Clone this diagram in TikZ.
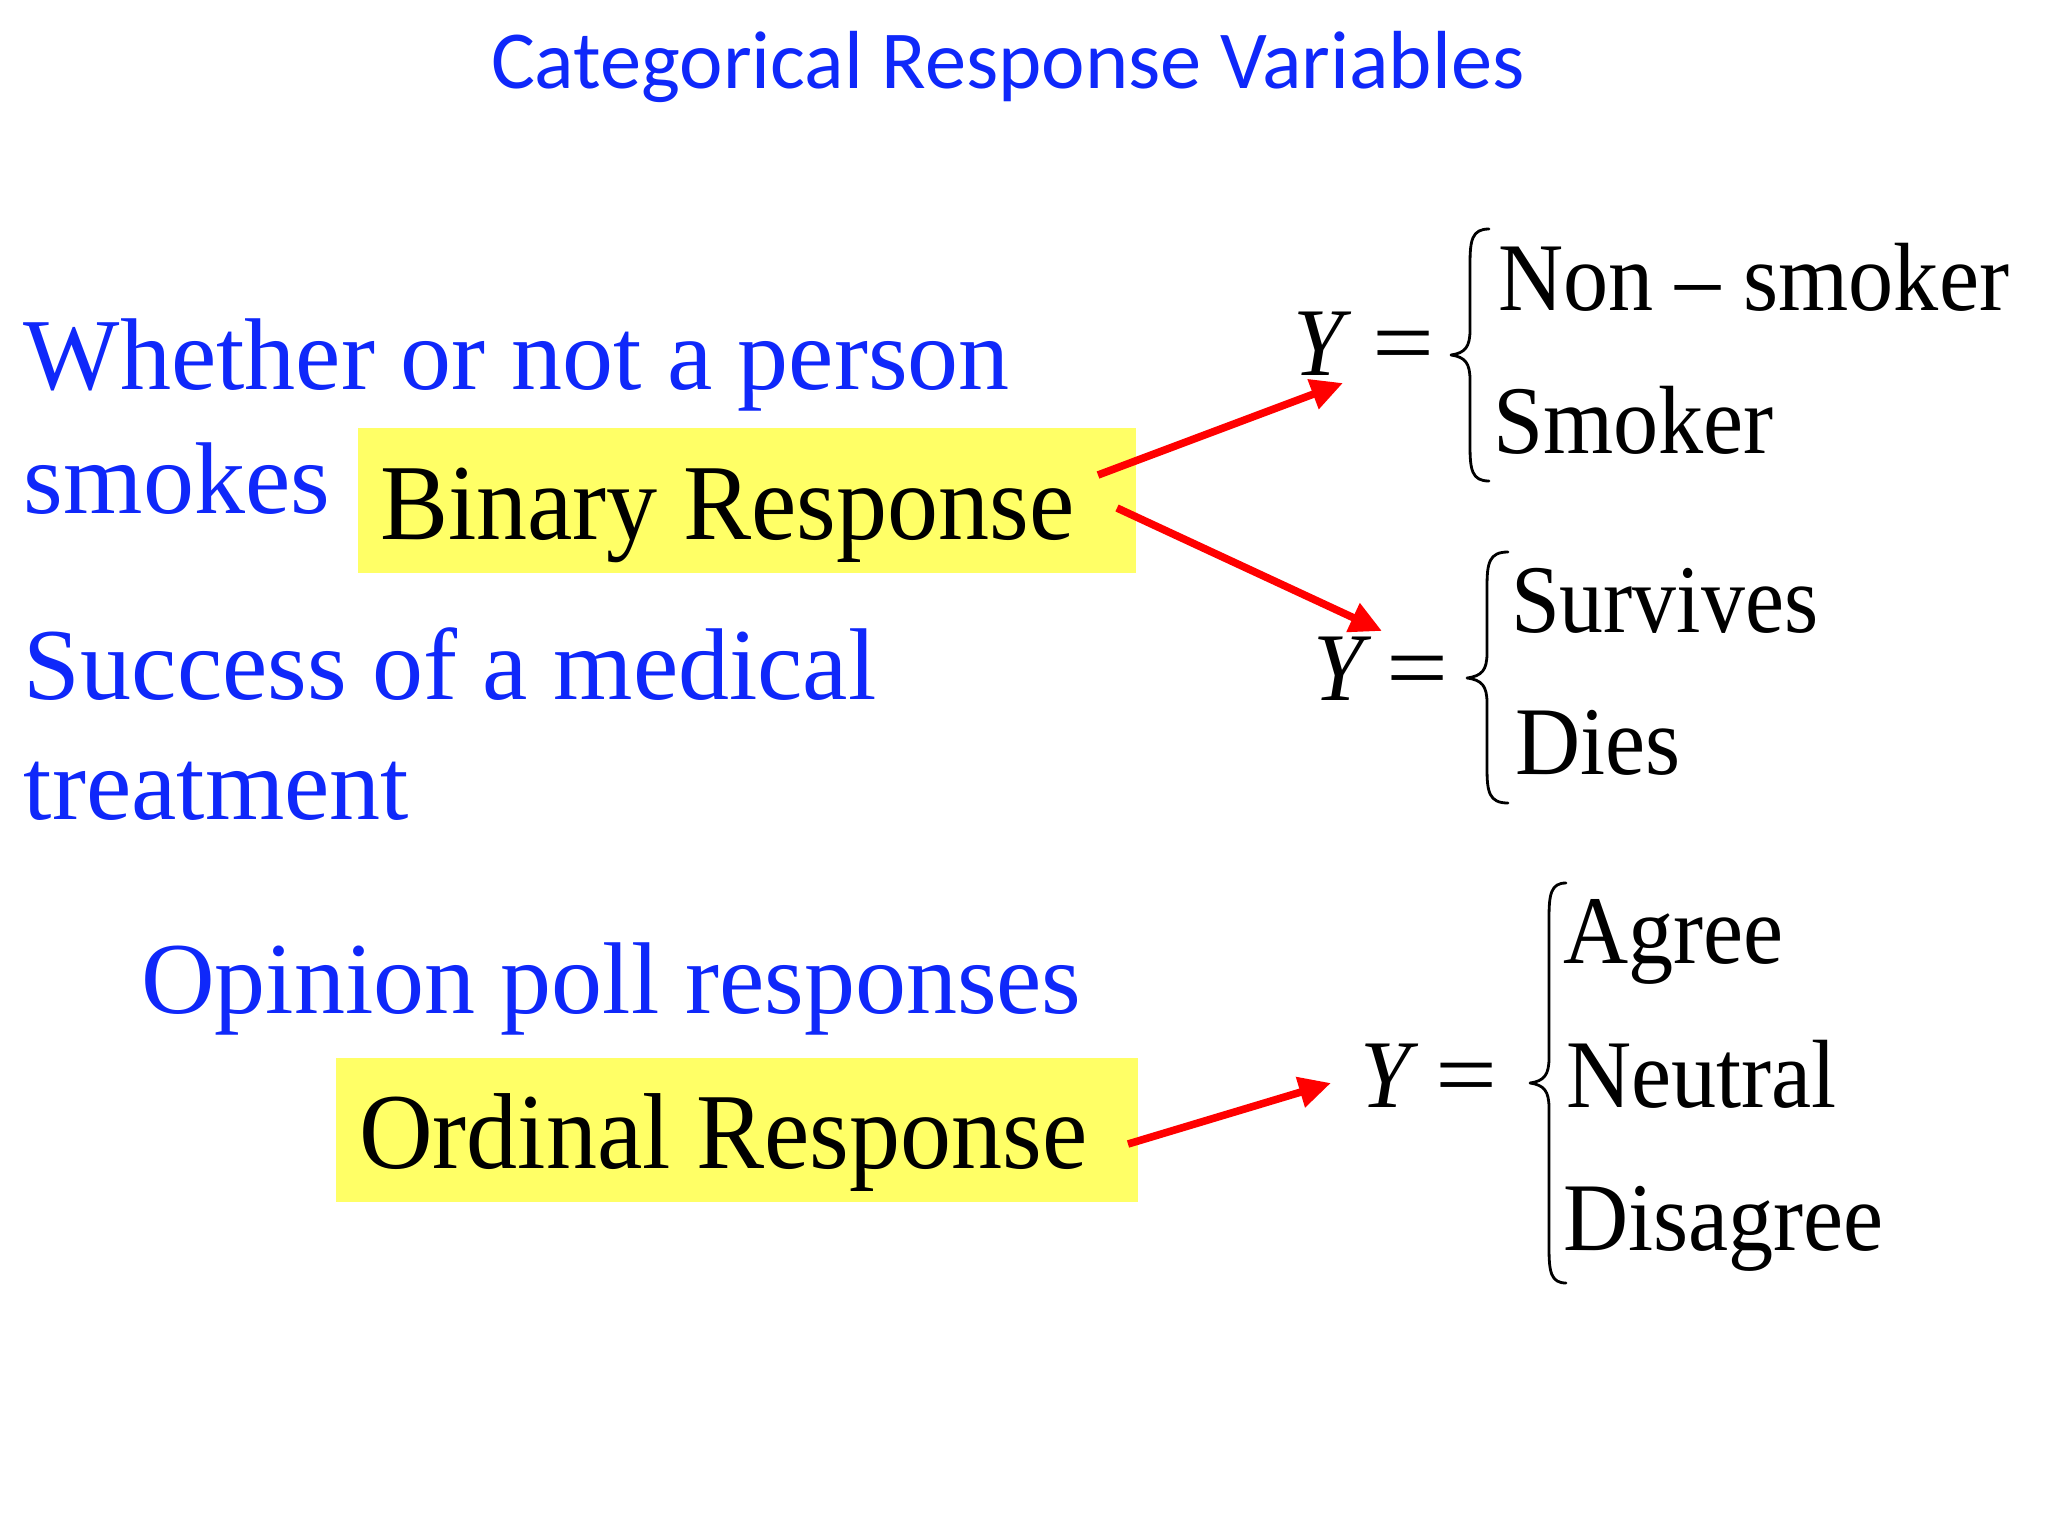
\documentclass[tikz,border=0pt]{standalone}
\usepackage{fontspec}
\setmainfont{Liberation Serif}
\newfontfamily\titlefont{Carlito}
\newfontfamily\bigfont[FakeStretch=0.945]{Liberation Serif}
\newfontfamily\eqfont[FakeStretch=0.93]{Liberation Serif}
\usetikzlibrary{arrows.meta}
\definecolor{ttblue}{RGB}{15,40,250}
\definecolor{boxyellow}{RGB}{255,255,102}
\definecolor{arrred}{RGB}{255,0,0}
\tikzset{
  txt/.style={inner sep=0pt, outer sep=0pt, anchor=base west},
  bluetxt/.style={txt, text=ttblue, font=\fontsize{51}{60}\selectfont},
  bigtxt/.style={txt, text=black, font=\bigfont\fontsize{54}{64}\selectfont},
  eqtxt/.style={txt, text=black, font=\eqfont\fontsize{48.5}{58}\selectfont},
  ytxt/.style={txt, text=black, font=\eqfont\itshape\fontsize{48.5}{58}\selectfont},
  ybox/.style={fill=boxyellow, draw=none, inner sep=0pt},
  redarrow/.style={draw=arrred, line width=3.8pt, -{Triangle[length=16pt,width=15pt]}},
  bracepath/.style={draw=black, line width=1.4pt, line cap=round, line join=round}
}
\newcommand{\wideeq}{\scalebox{1.22}[1]{=}}
\begin{document}
\begin{tikzpicture}[x=0.5pt,y=-0.5pt]
\useasboundingbox[fill=white] (0,0) rectangle (2048,1536);

% title
\node[txt, text=ttblue, font=\titlefont\fontsize{41.2}{48}\selectfont] (title) at (491,89) {Categorical Response Variables};

% left blue texts
\node[bluetxt] (l1) at (24,389) {Whether or not a person};
\node[bluetxt] (l2) at (24,513) {smokes};
\node[bluetxt] (l3) at (24,699) {Success of a medical};
\node[bluetxt] (l4) at (24,819) {treatment};
\node[bluetxt] (l5) at (141,1013) {Opinion poll responses};

% yellow boxes
\node[ybox, minimum width=389pt, minimum height=72.5pt] (binbox) at (747,500.5) {};
\node[bigtxt] (bintxt) at (380,539) {Binary Response};
\node[ybox, minimum width=401pt, minimum height=72pt] (ordbox) at (737,1130) {};
\node[bigtxt] (ordtxt) at (359,1168) {Ordinal Response};

% equation 1
\node[ytxt] (Y1) at (1293,375) {Y};
\node[eqtxt] (eq1) at (1372,375) {\wideeq};
\draw[bracepath] (1489,229) .. controls (1472,229) and (1470,240) .. (1470,264) -- (1470,330) .. controls (1470,347) and (1465,353) .. (1451,355) .. controls (1465,357) and (1470,363) .. (1470,380) -- (1470,446) .. controls (1470,470) and (1472,481) .. (1489,481);
\node[eqtxt] (c11) at (1498,310) {Non – smoker};
\node[eqtxt] (c12) at (1493,453) {Smoker};

% equation 2
\node[ytxt] (Y2) at (1313,700) {Y};
\node[eqtxt] (eq2) at (1386,700) {\wideeq};
\draw[bracepath] (1508,552) .. controls (1489,552) and (1487,563) .. (1487,587) -- (1487,653) .. controls (1487,670) and (1482,676) .. (1467,678) .. controls (1482,680) and (1487,686) .. (1487,703) -- (1487,768) .. controls (1487,792) and (1489,803) .. (1508,803);
\node[eqtxt, font=\eqfont\fontsize{48.5}{58}\selectfont\addfontfeature{FakeStretch=0.905}] (c21) at (1511,632) {Survives};
\node[eqtxt] (c22) at (1515,774) {Dies};

% equation 3
\node[ytxt] (Y3) at (1360,1107) {Y};
\node[eqtxt] (eq3) at (1435,1107) {\wideeq};
\draw[bracepath] (1566,883) .. controls (1551,883) and (1549,894) .. (1549,918) -- (1549,1058) .. controls (1549,1075) and (1544,1081) .. (1530,1083) .. controls (1544,1085) and (1549,1091) .. (1549,1108) -- (1549,1248) .. controls (1549,1272) and (1551,1283) .. (1566,1283);
\node[eqtxt] (c31) at (1563,963) {Agree};
\node[eqtxt] (c32) at (1566,1107) {Neutral};
\node[eqtxt] (c33) at (1563,1250) {Disagree};

% arrow end points
\coordinate (s1) at (1098,475);
\coordinate (t1) at (1343,383);
\coordinate (s2) at (1117,508);
\coordinate (t2) at (1382,631);
\coordinate (s3) at (1128,1144);
\coordinate (t3) at (1331,1083);

\draw[redarrow] (s1) -- (t1);
\draw[redarrow] (s2) -- (t2);
\draw[redarrow] (s3) -- (t3);
\end{tikzpicture}
\end{document}
